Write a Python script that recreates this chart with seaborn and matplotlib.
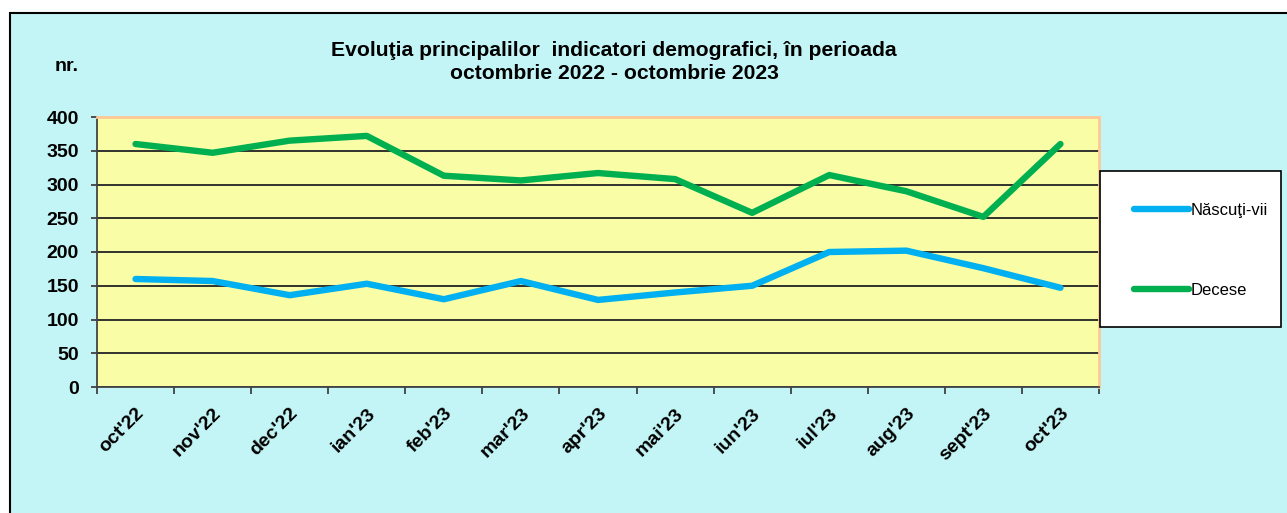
import pandas as pd
import seaborn as sns
import matplotlib.pyplot as plt
from matplotlib.patches import Rectangle
from matplotlib.ticker import FixedLocator

# data
months = ["oct'22", "nov'22", "dec'22", "ian'23", "feb'23", "mar'23", "apr'23",
          "mai'23", "iun'23", "iul'23", "aug'23", "sept'23", "oct'23"]
nascuti_vii = [160, 157, 136, 153, 130, 157, 129, 140, 150, 200, 202, 176, 147]
decese = [360, 347, 365, 372, 313, 306, 317, 308, 258, 314, 290, 252, 360]
series_names = ["Născuţi-vii", "Decese"]
y_ticks = [0, 50, 100, 150, 200, 250, 300, 350, 400]

df = pd.DataFrame({
    "luna": months * 2,
    "valoare": nascuti_vii + decese,
    "indicator": [series_names[0]] * len(months) + [series_names[1]] * len(months),
})

sns.set_style("white")
plt.rcParams['font.family'] = ['Liberation Sans', 'DejaVu Sans']
plt.rcParams['text.color'] = 'black'
plt.rcParams['xtick.color'] = 'black'
plt.rcParams['ytick.color'] = 'black'

bg_cyan = '#C4F5F6'
plot_yellow = '#F9FDA6'
border_orange = '#FFC896'
colors = ['#00B0F0', '#00B050']

fig = plt.figure(figsize=(12.87, 5.13), dpi=100)
fig.patch.set_facecolor('white')

# outer chart frame
fig.add_artist(Rectangle((10 / 1287, -0.1), 1.2, 1 - 13 / 513 + 0.1,
                         transform=fig.transFigure, facecolor=bg_cyan,
                         edgecolor='black', linewidth=1.5, zorder=0))

ax = fig.add_axes([97 / 1287, 1 - 387 / 513, (1099 - 97) / 1287, (387 - 117) / 513])
ax.set_facecolor(plot_yellow)

sns.lineplot(data=df, x="luna", y="valoare", hue="indicator", sort=False,
             palette=colors, linewidth=4.6, ax=ax, legend=False)
for ln in ax.lines:
    ln.set_solid_capstyle('round')

ax.set_xlim(-0.5, len(months) - 0.5)
ax.set_ylim(0, 400)
ax.set_yticks(y_ticks)
ax.yaxis.grid(True, color='#222222', linewidth=1.3)
ax.set_axisbelow(True)
ax.set_xlabel('')
ax.set_ylabel('')

ax.set_xticks(range(len(months)))
ax.set_xticklabels(months, rotation=45, ha='right', va='top',
                   rotation_mode='anchor', fontsize=14, fontweight='bold')
ax.xaxis.set_minor_locator(FixedLocator([i - 0.5 for i in range(len(months) + 1)]))
ax.tick_params(axis='x', which='major', length=0, pad=13)
ax.tick_params(axis='x', which='minor', bottom=True, length=5, width=1.2, color='#333333')
ax.tick_params(axis='y', left=True, length=4.5, width=1.2, color='#333333', pad=8.5,
               labelsize=14)
for lbl in ax.get_yticklabels():
    lbl.set_fontweight('bold')

for side in ['top', 'right']:
    ax.spines[side].set_color(border_orange)
    ax.spines[side].set_linewidth(2)
for side in ['left', 'bottom']:
    ax.spines[side].set_color('#444444')
    ax.spines[side].set_linewidth(1.3)

# title and unit
fig.text(614 / 1287, 1 - 62 / 513,
         "Evoluţia principalilor  indicatori demografici, în perioada\noctombrie 2022 - octombrie 2023",
         ha='center', va='center', fontsize=15.2, fontweight='bold', linespacing=1.24)
fig.text(55 / 1287, 1 - 67 / 513, "nr.", ha='left', va='center', fontsize=14,
         fontweight='bold')

# legend box and entries
fig.add_artist(Rectangle((1100 / 1287, 1 - 327 / 513), 181 / 1287, 156 / 513,
                         transform=fig.transFigure, facecolor='white',
                         edgecolor='black', linewidth=1.2, zorder=2))
handles = [plt.Line2D([], [], color=c, linewidth=4.6, solid_capstyle='round')
           for c in colors]
leg = fig.legend(handles, series_names, loc='upper left',
                 bbox_to_anchor=(1134 / 1287, 1 - 203 / 513),
                 fontsize=12, handlelength=3.3, handletextpad=0.12,
                 labelspacing=3.9, borderpad=0, borderaxespad=0, frameon=False)
leg.set_zorder(3)

plt.savefig('out.png', dpi=100)
